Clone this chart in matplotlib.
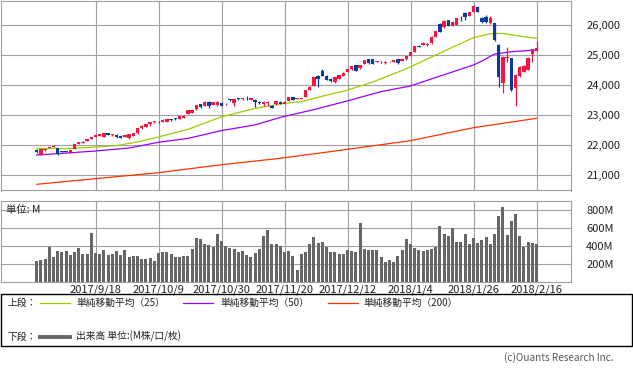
import matplotlib
matplotlib.use("Agg")
import matplotlib.pyplot as plt
from matplotlib.patches import Rectangle
from matplotlib.lines import Line2D

plt.rcParams['font.family'] = ['Noto Sans CJK JP', 'DejaVu Sans']

# ---------------- data ----------------
tick_idx = [14, 29, 44, 59, 74, 89, 104, 119]
tick_labels = ['2017/9/18', '2017/10/9', '2017/10/30', '2017/11/20',
               '2017/12/12', '2018/1/4', '2018/1/26', '2018/2/16']

opens = [21822, 21667, 21822, 21900, 21940, 21889, 21785, 21785, 21733, 21867,
         22044, 22067, 22133, 22211, 22267, 22311, 22278, 22389, 22325, 22333,
         22300, 22278, 22222, 22311, 22389, 22556, 22600, 22689, 22760, 22767,
         22767, 22778, 22845, 22875, 22878, 22911, 23033, 23055, 23189, 23356,
         23311, 23444, 23333, 23333, 23411, 23350, 23505, 23389, 23540, 23525,
         23565, 23500, 23500, 23420, 23356, 23400, 23311, 23356, 23444, 23367,
         23478, 23589, 23540, 23540, 23611, 23833, 23967, 24300, 24467, 24300,
         24200, 24089, 24200, 24300, 24444, 24522, 24667, 24555, 24700, 24867,
         24850, 24770, 24765, 24722, 24785, 24780, 24867, 24800, 24855, 24967,
         25111, 25290, 25330, 25330, 25389, 25611, 26033, 25922, 26167, 25967,
         26000, 26230, 26389, 26311, 26444, 26611, 26244, 26278, 26056, 26056,
         25333, 24056, 24910, 24889, 23889, 24300, 24444, 24500, 25022, 25133]
highs = [21850, 21880, 21880, 21945, 21990, 21900, 21810, 21810, 21840, 22040,
         22100, 22120, 22210, 22280, 22330, 22360, 22400, 22400, 22360, 22360,
         22320, 22345, 22370, 22400, 22560, 22650, 22700, 22780, 22800, 22800,
         22860, 22870, 22870, 22900, 22970, 22990, 23170, 23180, 23340, 23380,
         23450, 23460, 23430, 23450, 23420, 23390, 23540, 23530, 23570, 23560,
         23620, 23570, 23520, 23450, 23450, 23450, 23320, 23480, 23460, 23450,
         23600, 23600, 23570, 23570, 23840, 23950, 24260, 24320, 24522, 24330,
         24220, 24270, 24340, 24420, 24540, 24640, 24680, 24670, 24840, 24880,
         24870, 24800, 24790, 24790, 24810, 24840, 24880, 24860, 24970, 25110,
         25310, 25330, 25420, 25400, 25620, 25810, 26060, 26150, 26180, 26120,
         26230, 26300, 26444, 26430, 26650, 26640, 26260, 26333, 26311, 26080,
         25350, 24960, 25278, 24900, 24350, 24640, 24650, 24944, 25200, 25450]
lows = [21740, 21650, 21810, 21890, 21920, 21680, 21750, 21750, 21720, 21860,
        22030, 22050, 22120, 22200, 22250, 22300, 22270, 22320, 22300, 22220,
        22230, 22260, 22210, 22300, 22380, 22540, 22590, 22640, 22740, 22730,
        22750, 22770, 22810, 22840, 22870, 22900, 23020, 23050, 23180, 23240,
        23300, 23222, 23320, 23300, 23300, 23330, 23470, 23300, 23510, 23500,
        23500, 23490, 23278, 23380, 23300, 23300, 23220, 23340, 23370, 23350,
        23460, 23490, 23530, 23530, 23600, 23820, 23950, 23922, 24290, 24160,
        24100, 24080, 24190, 24290, 24430, 24510, 24470, 24540, 24690, 24710,
        24690, 24750, 24740, 24710, 24770, 24770, 24710, 24790, 24840, 24950,
        25100, 25250, 25320, 25300, 25380, 25600, 25770, 25910, 25960, 25960,
        25990, 26144, 26167, 26300, 26430, 26430, 26080, 26080, 26040, 25480,
        23944, 23733, 24778, 23800, 23300, 24280, 24430, 24490, 24778, 25120]
closes = [21778, 21867, 21867, 21922, 21950, 21689, 21775, 21775, 21830, 22033,
          22089, 22111, 22200, 22267, 22322, 22356, 22389, 22333, 22335, 22256,
          22244, 22333, 22356, 22389, 22556, 22640, 22689, 22770, 22775, 22750,
          22833, 22856, 22833, 22865, 22967, 22978, 23167, 23167, 23333, 23256,
          23444, 23300, 23422, 23444, 23311, 23360, 23495, 23522, 23530, 23535,
          23550, 23556, 23422, 23405, 23444, 23430, 23233, 23467, 23378, 23444,
          23589, 23500, 23555, 23555, 23833, 23944, 24256, 24189, 24300, 24178,
          24122, 24256, 24333, 24411, 24533, 24633, 24478, 24667, 24833, 24722,
          24700, 24780, 24755, 24778, 24795, 24833, 24722, 24855, 24967, 25100,
          25300, 25270, 25400, 25380, 25611, 25800, 25778, 26144, 25967, 26111,
          26222, 26222, 26278, 26422, 26633, 26444, 26089, 26089, 26222, 25500,
          24278, 24944, 24930, 23833, 24333, 24611, 24633, 24911, 25189, 25244]

volumes = [230, 241, 252, 385, 274, 341, 333, 341, 296, 326,
           370, 304, 304, 537, 315, 304, 352, 296, 304, 341,
           296, 352, 274, 285, 285, 252, 252, 259, 230, 322,
           330, 330, 304, 274, 267, 285, 285, 363, 489, 474,
           415, 407, 389, 530, 452, 400, 378, 363, 333, 341,
           296, 274, 315, 363, 507, 574, 418, 418, 400, 333,
           341, 285, 130, 307, 326, 415, 496, 426, 437, 381,
           326, 326, 304, 304, 348, 341, 326, 648, 363, 352,
           352, 352, 267, 222, 237, 222, 285, 352, 474, 418,
           378, 352, 341, 352, 363, 389, 618, 526, 511, 600,
           437, 437, 526, 415, 489, 426, 463, 493, 418, 526,
           730, 826, 518, 674, 752, 507, 381, 437, 426, 418]

ma25_x = [0, 7, 14, 19, 24, 29, 36, 44, 52, 59, 63, 67, 74, 80, 88, 95, 104, 108, 111, 115, 119]
ma25_y = [21890, 21880, 21930, 21980, 22100, 22270, 22520, 22940, 23220, 23390, 23444,
          23590, 23830, 24100, 24540, 25000, 25580, 25710, 25720, 25630, 25555]
ma50_x = [0, 7, 14, 22, 29, 36, 44, 52, 58, 66, 74, 82, 89, 95, 104, 106, 109, 113, 119]
ma50_y = [21667, 21730, 21800, 21900, 22090, 22220, 22480, 22670, 22920, 23180, 23470,
          23780, 23967, 24250, 24667, 24800, 25030, 25110, 25167]
ma200_x = [0, 29, 44, 57, 67, 89, 104, 119]
ma200_y = [20690, 21077, 21343, 21540, 21723, 22143, 22577, 22890]

price_ticks = [21000, 22000, 23000, 24000, 25000, 26000]
vol_ticks = [200, 400, 600, 800]

# ---------------- style ----------------
W, H = 633, 370
RED = '#f7143f'
BLUE = '#0a3a9c'
C25 = '#9acd00'
C50 = '#9b00ff'
C200 = '#ff3300'
GRID = '#a0a0a0'
VOL = '#666666'

fig = plt.figure(figsize=(W / 100, H / 100), dpi=100)

def fx(px):
    return px / W

def fy(py):
    return 1 - py / H

ax = fig.add_axes([fx(1), fy(190.5), fx(570), 189.5 / H])
axv = fig.add_axes([fx(1), fy(281.5), fx(570), 80.5 / H])

n = len(closes)
xs = list(range(n))
xmin = (1 - 36.7) / 4.2
xmax = (571 - 36.7) / 4.2

for a in (ax, axv):
    a.set_xlim(xmin, xmax)
    for s in a.spines.values():
        s.set_color(GRID)
        s.set_linewidth(0.8)
    a.set_xticks(tick_idx)
    a.grid(True, color=GRID, linewidth=0.8)
    a.set_axisbelow(True)
    a.yaxis.tick_right()
    a.tick_params(axis='both', length=0, labelsize=8, colors='#222222')

# price panel
ax.set_ylim(20483, 26800)
ax.set_yticks(price_ticks)
ax.set_yticklabels([f'{v:,}' for v in price_ticks])
ax.tick_params(axis='y', pad=11)
ax.tick_params(axis='x', labelbottom=False)

ax.plot(ma200_x, ma200_y, color=C200, lw=0.9, zorder=2)
ax.plot(ma25_x, ma25_y, color=C25, lw=0.9, zorder=2)
ax.plot(ma50_x, ma50_y, color=C50, lw=0.9, zorder=2)

for i in xs:
    o, h, l, c = opens[i], highs[i], lows[i], closes[i]
    col = RED if c >= o else BLUE
    ax.vlines(i, l, h, color=col, lw=0.9, zorder=3)
    bot = min(o, c)
    ht = max(abs(c - o), 25)
    ax.bar(i, ht, bottom=bot, width=0.8, color=col, linewidth=0, zorder=4)

# volume panel
axv.set_ylim(0, 895)
axv.set_yticks(vol_ticks)
axv.set_yticklabels([f'{v}M' for v in vol_ticks])
axv.tick_params(axis='y', pad=11)
axv.set_xticklabels(tick_labels)
axv.tick_params(axis='x', pad=2)
axv.bar(xs, volumes, width=0.68, color=VOL, linewidth=0, zorder=3)
axv.text(0.008, 0.89, '単位: M', transform=axv.transAxes, fontsize=7.5,
         va='center', ha='left', color='#222222')

# legend box
fig.patches.append(Rectangle((fx(0.5), fy(346)), fx(631.5), 52 / H,
                             transform=fig.transFigure, fill=False,
                             edgecolor='black', linewidth=1.0))
tcol = '#222222'
fig.text(fx(8), fy(303), '上段：', fontsize=7, va='center', ha='left', color=tcol)
leg_items = [(40, 70, 76, C25, '単純移動平均（25）'),
             (183, 213, 220, C50, '単純移動平均（50）'),
             (328, 358, 363, C200, '単純移動平均（200）')]
for x0, x1, xt, col, lab in leg_items:
    fig.add_artist(Line2D([fx(x0), fx(x1)], [fy(303), fy(303)], color=col,
                          lw=0.9, transform=fig.transFigure))
    fig.text(fx(xt), fy(303), lab, fontsize=7, va='center', ha='left', color=tcol)

fig.text(fx(8), fy(336.5), '下段：', fontsize=7, va='center', ha='left', color=tcol)
fig.add_artist(Line2D([fx(40), fx(70)], [fy(336.5), fy(336.5)], color=VOL,
                      lw=2.8, transform=fig.transFigure))
fig.text(fx(76), fy(336.5), '出来高 単位:(M株/口/枚)', fontsize=7, va='center',
         ha='left', color=tcol)

fig.text(fx(614), fy(358), '(c)Ouants Research Inc.', fontsize=7.2, va='center',
         ha='right', color='#555555')

fig.savefig('out.png', dpi=100)
